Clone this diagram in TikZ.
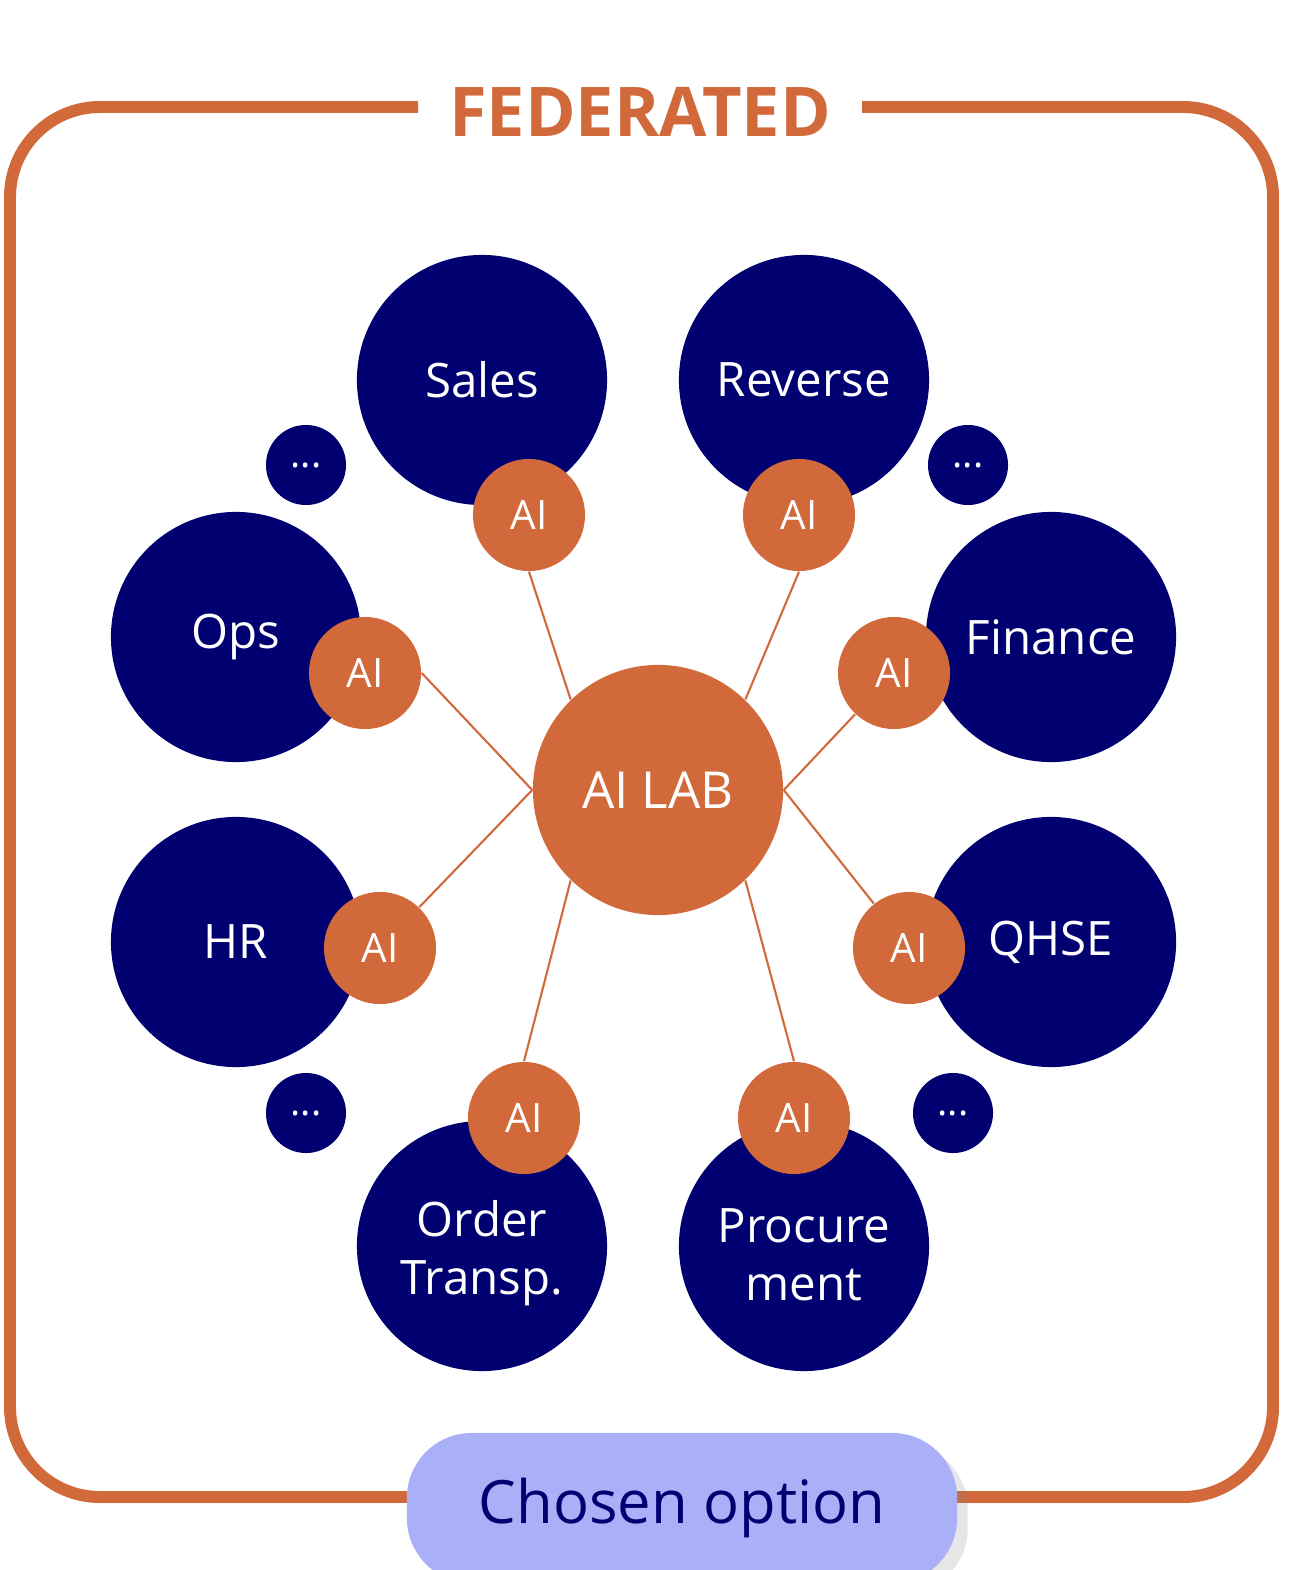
\documentclass[tikz,border=0pt]{standalone}
\usepackage{fontspec}
\setmainfont{Open Sans}
\usetikzlibrary{shadows}
\definecolor{navy}{HTML}{000070}
\definecolor{rust}{HTML}{D2693A}
\definecolor{lavender}{HTML}{AAB0F8}
\tikzset{
  dept/.style={circle, fill=navy, minimum size=2.5cm, inner sep=0, text=white, font=\fontsize{13.5}{16.5}\selectfont, align=center},
  ai/.style={circle, fill=rust, minimum size=1.12cm, inner sep=0, text=white, font=\fontsize{11.5}{14}\selectfont},
  more/.style={circle, fill=navy, minimum size=0.8cm, inner sep=0, text=white, font=\fontsize{11}{13}\selectfont},
  link/.style={rust, line width=0.6pt}
}
\begin{document}
\begin{tikzpicture}[x=0.01cm, y=-0.01cm]
\useasboundingbox (0,0) rectangle (1300,1570);
% frame
\draw [rust, line width=3.4pt, rounded corners=0.9cm] (418,107) -- (10,107) -- (10,1497) -- (1273,1497) -- (1273,107) -- (862,107);
\node [text=rust, font=\fontsize{19.5}{23}\selectfont\bfseries] (title) at (640,112) {FEDERATED};
% departments
\node [dept] (sales) at (482,380) {Sales};
\node [dept] (reverse) at (804,380) {Reverse};
\node [dept] (ops) at (236,637) {Ops};
\node [dept] (finance) at (1051,637) {Finance};
\node [dept] (hr) at (236,942) {HR};
\node [dept] (qhse) at (1051,942) {QHSE};
\node [dept] (order) at (482,1246) {\\[-2pt]Order\\Transp.};
\node [dept] (procure) at (804,1246) {\\[-2pt]Procure\\ment};
\node [more] (m1) at (306,465) {...};
\node [more] (m2) at (968,465) {...};
\node [more] (m3) at (306,1113) {...};
\node [more] (m4) at (953,1113) {...};
% hub
\node [circle, fill=rust, minimum size=2.5cm, inner sep=0, text=white, font=\fontsize{14.5}{17}\selectfont] (lab) at (658,790) {AI LAB};
\node [ai] (aisales) at (529,515) {AI};
\node [ai] (aireverse) at (799,515) {AI};
\node [ai] (aiops) at (365,673) {AI};
\node [ai] (aifinance) at (894,673) {AI};
\node [ai] (aihr) at (380,948) {AI};
\node [ai] (aiqhse) at (909,948) {AI};
\node [ai] (aiorder) at (524,1118) {AI};
\node [ai] (aiprocure) at (794,1118) {AI};
\draw [link] (lab.134) -- (aisales.south);
\draw [link] (lab.46) -- (aireverse.south);
\draw [link] (lab.west) -- (aiops.east);
\draw [link] (lab.west) -- (aihr);
\draw [link] (lab.east) -- (aifinance);
\draw [link] (lab.east) -- (aiqhse);
\draw [link] (lab.226) -- (aiorder.north);
\draw [link] (lab.-46) -- (aiprocure.north);
% option
\node [rounded corners=0.65cm, fill=lavender, minimum width=5.5cm, minimum height=1.5cm, text=navy, font=\fontsize{17}{20}\selectfont, drop shadow={shadow xshift=3pt, shadow yshift=-3pt, opacity=0.2}] (option) at (682,1508) {Chosen option};
\end{tikzpicture}
\end{document}
